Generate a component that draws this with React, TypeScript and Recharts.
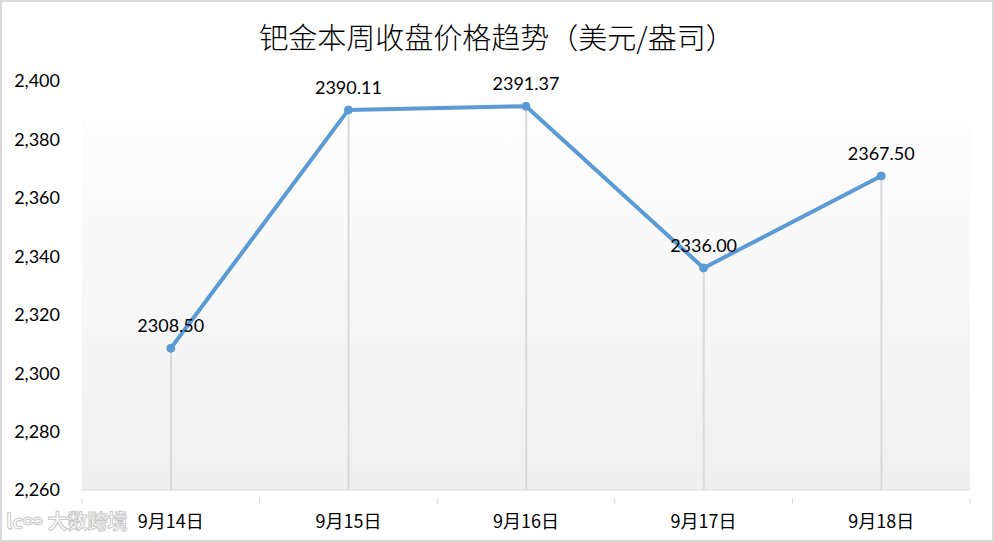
import { ComposedChart, Line, Bar, XAxis, YAxis, CartesianGrid, LabelList } from 'recharts'

const days = ['9月14日', '9月15日', '9月16日', '9月17日', '9月18日']
const closes = [2308.5, 2390.11, 2391.37, 2336.0, 2367.5]
const yTicks = [2260, 2280, 2300, 2320, 2340, 2360, 2380, 2400]

const data = days.map((day, i) => ({ day, close: closes[i] }))

const latin = 'Lato, "Noto Sans", sans-serif'
const cjk = '"Noto Sans CJK SC", sans-serif'

function DayTick(props: any) {
  const { x, y, payload, index, visibleTicksCount } = props
  const half = payload.offset || 0
  return (
    <g>
      <line x1={x - half} y1={y} x2={x - half} y2={y + 6} stroke="#d9d9d9" />
      {index === visibleTicksCount - 1 && (
        <line x1={x + half} y1={y} x2={x + half} y2={y + 6} stroke="#d9d9d9" />
      )}
      <text x={x} y={y + 30} textAnchor="middle" fontSize={18} fill="#000" fontFamily={cjk}>
        {payload.value}
      </text>
    </g>
  )
}

export default function App() {
  return (
    <div style={{ position: 'absolute', left: 0, top: 0, width: 994, height: 542, background: '#fff' }}>
      <div
        style={{
          position: 'absolute',
          top: 14,
          width: 994,
          textAlign: 'center',
          fontFamily: cjk,
          fontSize: 29,
          fontWeight: 300,
          color: '#000',
          lineHeight: '44px',
        }}
      >
        钯金本周收盘价格趋势（美元/盎司）
      </div>
      <ComposedChart
        width={994}
        height={542}
        data={data}
        margin={{ top: 81, right: 24, bottom: 22, left: 12 }}
        style={{ position: 'absolute', left: 0, top: 0 }}
      >
        <defs>
          <linearGradient id="plotBg" x1="0" y1="0" x2="0" y2="1">
            <stop offset="0%" stopColor="#ffffff" />
            <stop offset="100%" stopColor="#efefef" />
          </linearGradient>
        </defs>
        <CartesianGrid horizontal={false} vertical={false} fill="url(#plotBg)" />
        <XAxis
          dataKey="day"
          height={30}
          axisLine={{ stroke: '#d9d9d9' }}
          tickLine={false}
          tick={<DayTick />}
          interval={0}
        />
        <YAxis
          width={70}
          domain={[2260, 2400]}
          ticks={yTicks}
          axisLine={false}
          tickLine={false}
          tickSize={0}
          tickMargin={22}
          tickFormatter={(v: number) => v.toLocaleString('en-US')}
          tick={{ fill: '#000', fontSize: 18, fontFamily: latin }}
        />
        <Bar dataKey="close" barSize={2} fill="#d9d9d9" isAnimationActive={false} />
        <Line
          dataKey="close"
          stroke="#5b9bd5"
          strokeWidth={4}
          dot={{ r: 4, fill: '#5b9bd5', stroke: '#5b9bd5', strokeWidth: 1 }}
          isAnimationActive={false}
        >
          <LabelList
            dataKey="close"
            position="top"
            offset={16}
            formatter={(v: any) => Number(v).toFixed(2)}
            style={{ fill: '#000', fontSize: 18, fontFamily: latin }}
          />
        </Line>
      </ComposedChart>
      <div
        style={{
          position: 'absolute',
          left: 6,
          top: 506,
          fontFamily: cjk,
          fontSize: 20,
          fontWeight: 700,
          color: '#fff',
          WebkitTextStroke: '1px #c8c8c8',
          whiteSpace: 'nowrap',
        }}
      >
        lc∞ 大数跨境
      </div>
      <div
        style={{
          position: 'absolute',
          left: 0,
          top: 0,
          width: 994,
          height: 542,
          boxSizing: 'border-box',
          border: '2px solid #d9d9d9',
          pointerEvents: 'none',
        }}
      />
    </div>
  )
}
